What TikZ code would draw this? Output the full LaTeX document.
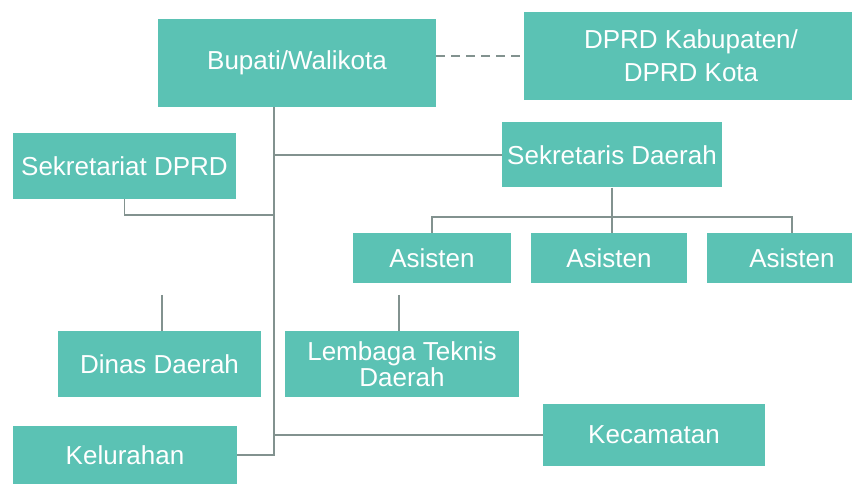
\documentclass[tikz,border=0pt]{standalone}
\usepackage{xcolor}
\usepackage{fontspec}
\setmainfont{Liberation Sans}
\usetikzlibrary{positioning, calc}

\definecolor{tealbox}{RGB}{91,194,180}
\definecolor{orgline}{RGB}{130,146,143}

\tikzset{
    unitbox/.style={draw=none, rectangle, fill=tealbox, text=white, align=center,
        inner sep=0pt, font=\fontsize{26}{33}\selectfont},
    orgedge/.style={draw=orgline, line width=1.2pt}
}

\begin{document}
\begin{tikzpicture}[x=1pt, y=-1pt]
    \useasboundingbox (0,0) rectangle (852,486);
    \clip (0,0) rectangle (852,486);

    % Top level
    \node[unitbox, minimum width=278pt, minimum height=88pt] (bupati) at (297,63) {Bupati/Walikota};
    \node[unitbox, minimum width=334pt, minimum height=88pt] (dprd) at (691,56) {DPRD Kabupaten/\\DPRD Kota};

    % Secretariats
    \node[unitbox, minimum width=223pt, minimum height=66pt] (sekwan) at (124.5,166) {Sekretariat DPRD};
    \node[unitbox, minimum width=220pt, minimum height=65pt] (sekda) at (612,155) {Sekretaris Daerah};

    % Assistants
    \node[unitbox, minimum width=158pt, minimum height=50pt] (asis1) at (432,258) {Asisten};
    \node[unitbox, minimum width=156pt, minimum height=50pt] (asis2) at (609,258) {Asisten};
    \node[unitbox, minimum width=170pt, minimum height=50pt] (asis3) at (792,258) {Asisten};

    % Agencies
    \node[unitbox, minimum width=203pt, minimum height=66pt] (dinas) at (159.5,364) {Dinas Daerah};
    \node[unitbox, minimum width=234pt, minimum height=66pt,
          font=\fontsize{26}{26}\selectfont] (lembaga) at (402,364) {Lembaga Teknis\\Daerah};

    % Territorial units
    \node[unitbox, minimum width=224pt, minimum height=58pt] (kelurahan) at (125,455) {Kelurahan};
    \node[unitbox, minimum width=222pt, minimum height=62pt] (kecamatan) at (654,435) {Kecamatan};

    % Helper points
    \coordinate (spine) at (274,455);
    \coordinate (sekwanJoin) at (274,215);
    \coordinate (bus) at (612,217);
    \coordinate (dinasStub) at (162,295);
    \coordinate (lembagaStub) at (399,295);

    % Connectors
    \draw[orgedge, dashed, dash pattern=on 9pt off 6pt] (bupati.east |- dprd.west) -- (dprd.west);
    \draw[orgedge] (bupati.south -| spine) -- (spine) -- (kelurahan.east);
    \draw[orgedge] (sekda.west -| spine) -- (sekda.west);
    \draw[orgedge] (kecamatan.west -| spine) -- (kecamatan.west);
    \draw[orgedge] (sekwan.south) |- (sekwanJoin);
    \draw[orgedge] (sekda.south) -- (sekda.south |- asis2.north);
    \draw[orgedge] (asis1.north) |- (bus) -| (asis3.north);
    \draw[orgedge] (dinasStub) -- (dinasStub |- dinas.north);
    \draw[orgedge] (lembagaStub) -- (lembagaStub |- lembaga.north);
\end{tikzpicture}
\end{document}
